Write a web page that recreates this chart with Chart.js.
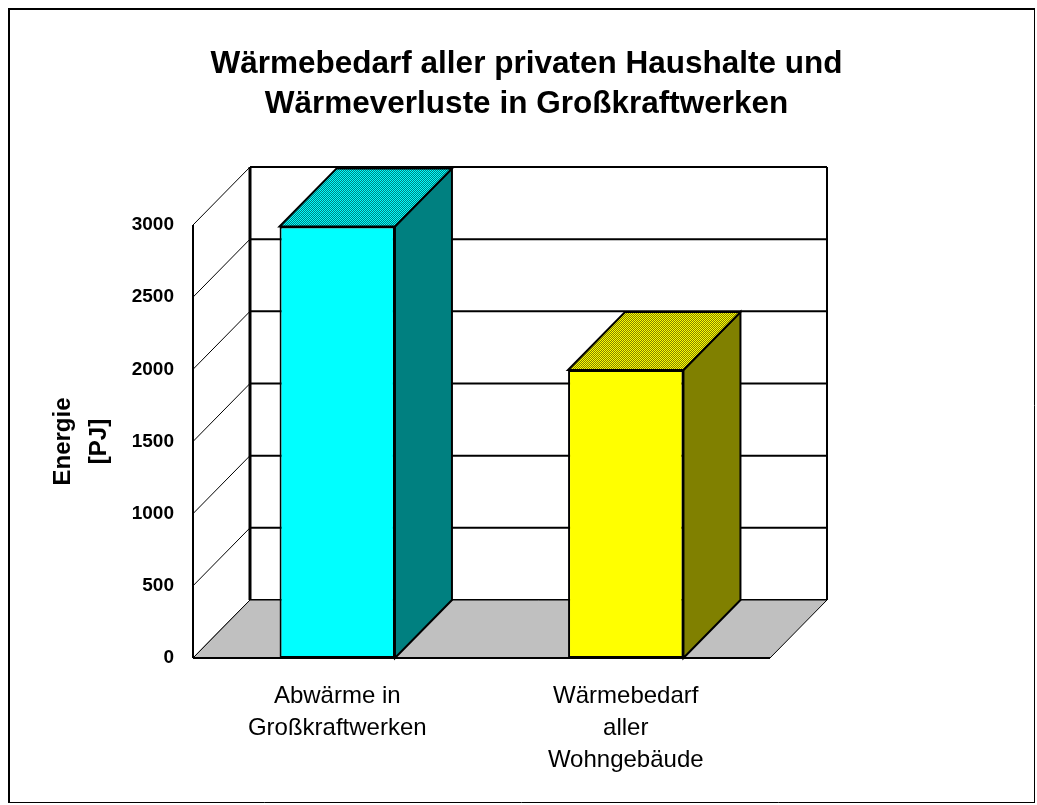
<!DOCTYPE html>
<html>
<head>
<meta charset="utf-8">
<title>Wärmebedarf aller privaten Haushalte und Wärmeverluste in Großkraftwerken</title>
<script src="https://cdn.jsdelivr.net/npm/chart.js@4.4.1/dist/chart.umd.min.js"></script>
<style>
    html, body { margin: 0; padding: 0; background: #fff; }
    canvas { display: block; }
</style>
</head>
<body>
<canvas id="energyChart" width="1037" height="805"></canvas>
<script>
// Chart data
const titleLines = ['Wärmebedarf aller privaten Haushalte und', 'Wärmeverluste in Großkraftwerken'];
const categories = [['Abwärme in', 'Großkraftwerken'], ['Wärmebedarf', 'aller', 'Wohngebäude']];
const energyPJ = [2990, 1995];
const yAxisTitle = ['Energie', '[PJ]'];
const yMin = 0;
const yMax = 3000;
const yStep = 500;

// Colours of the 3D faces
const frontColors = ['#00ffff', '#ffff00'];
const sideColors = ['#008080', '#808000'];
const topDither = [['#008080', '#00ffff'], ['#808000', '#ffff00']];

const FONT = 'Arial, "Liberation Sans", sans-serif';
const DEPTH_X = 57;
const DEPTH_Y = -58;

// small checker pattern, like the dithered tops in the picture
function makeDither(ctx, dark, light) {
    const c = document.createElement('canvas');
    c.width = 2;
    c.height = 2;
    const p = c.getContext('2d');
    p.fillStyle = dark;
    p.fillRect(0, 0, 2, 2);
    p.fillStyle = light;
    p.fillRect(0, 0, 1, 1);
    p.fillRect(1, 1, 1, 1);
    return ctx.createPattern(c, 'repeat');
}

function poly(ctx, pts, fill, lineWidth) {
    ctx.beginPath();
    ctx.moveTo(pts[0][0], pts[0][1]);
    for (let i = 1; i < pts.length; i++) ctx.lineTo(pts[i][0], pts[i][1]);
    ctx.closePath();
    if (fill) {
        ctx.fillStyle = fill;
        ctx.fill();
    }
    ctx.lineWidth = lineWidth;
    ctx.strokeStyle = '#000';
    ctx.stroke();
}

function line(ctx, x1, y1, x2, y2, w) {
    ctx.beginPath();
    ctx.moveTo(x1, y1);
    ctx.lineTo(x2, y2);
    ctx.lineWidth = w;
    ctx.strokeStyle = '#000';
    ctx.stroke();
}

// Walls, floor and bar depth drawn behind the front faces
const threeDPlugin = {
    id: 'threeD',
    beforeDatasetsDraw(chart) {
        const ctx = chart.ctx;
        const y = chart.scales.y;
        const area = chart.chartArea;
        const left = area.left, right = area.right;
        const bottom = y.getPixelForValue(yMin);
        const top = y.getPixelForValue(yMax);
        const dx = DEPTH_X, dy = DEPTH_Y;

        ctx.save();
        // back wall
        ctx.fillStyle = '#fff';
        ctx.fillRect(left + dx, top + dy, right - left, bottom - top);
        y.ticks.forEach(t => {
            const py = y.getPixelForValue(t.value) + dy;
            line(ctx, left + dx, py, right + dx, py, 2);
        });
        line(ctx, right + dx, top + dy, right + dx, bottom + dy, 2);

        // left side wall
        y.ticks.forEach(t => {
            const py = y.getPixelForValue(t.value);
            line(ctx, left, py, left + dx, py + dy, 1);
        });
        line(ctx, left, top, left, bottom, 2);
        line(ctx, left + dx, top + dy, left + dx, bottom + dy, 3);

        // floor
        poly(ctx, [[left, bottom], [right, bottom], [right + dx, bottom + dy], [left + dx, bottom + dy]], '#c0c0c0', 1);
        line(ctx, left, bottom, right, bottom, 2);

        // bar sides and tops
        const meta = chart.getDatasetMeta(0);
        meta.data.forEach((bar, i) => {
            const props = bar.getProps(['x', 'y', 'width', 'base'], true);
            const bl = props.x - props.width / 2;
            const br = props.x + props.width / 2;
            poly(ctx, [[br, props.y], [br + dx, props.y + dy], [br + dx, props.base + dy], [br, props.base]], sideColors[i], 2);
            const pat = makeDither(ctx, topDither[i][0], topDither[i][1]);
            poly(ctx, [[bl, props.y], [bl + dx, props.y + dy], [br + dx, props.y + dy], [br, props.y]], pat, 2);
        });
        ctx.restore();
    },
    afterDraw(chart) {
        const ctx = chart.ctx;
        ctx.save();
        line(ctx, 8, 9, 1035, 9, 2);
        line(ctx, 9, 8, 9, 803, 2);
        line(ctx, 8, 802.5, 1035, 802.5, 1);
        line(ctx, 1034.5, 8, 1034.5, 803, 1);
        ctx.restore();
    }
};

const ctx = document.getElementById('energyChart').getContext('2d');
const energyChart = new Chart(ctx, {
    type: 'bar',
    data: {
        labels: categories,
        datasets: [{
            data: energyPJ,
            backgroundColor: frontColors,
            borderColor: '#000',
            borderWidth: 2,
            borderSkipped: false,
            categoryPercentage: 1,
            barPercentage: 0.4,
            clip: false
        }]
    },
    options: {
        responsive: false,
        animation: false,
        layout: {
            padding: { left: 18, right: 2, top: 10, bottom: 2 }
        },
        plugins: {
            legend: { display: false },
            tooltip: { enabled: false },
            title: {
                display: true,
                text: titleLines,
                color: '#000',
                font: { family: FONT, size: 31.5, weight: 'bold', lineHeight: 40 / 31.5 },
                padding: { top: 34, bottom: 101 }
            }
        },
        scales: {
            x: {
                grid: { display: false },
                border: { display: false },
                ticks: {
                    color: '#000',
                    padding: 14,
                    maxRotation: 0,
                    autoSkip: false,
                    font: { family: FONT, size: 24, lineHeight: 32 / 24 }
                },
                afterFit(scale) { scale.height = 805 - 2 - 658; }
            },
            y: {
                min: yMin,
                max: yMax,
                grid: { display: false },
                border: { display: false },
                ticks: {
                    stepSize: yStep,
                    color: '#000',
                    padding: 11,
                    font: { family: FONT, size: 19, weight: 'bold' },
                    callback: value => String(value)
                },
                title: {
                    display: true,
                    text: yAxisTitle,
                    color: '#000',
                    padding: { top: 27, bottom: 0 },
                    font: { family: FONT, size: 24, weight: 'bold', lineHeight: 1.5 }
                },
                afterFit(scale) { scale.width = 193 - 18; }
            },
            y2: {
                position: 'right',
                display: true,
                grid: { display: false },
                border: { display: false },
                ticks: { display: false },
                afterFit(scale) { scale.width = 1037 - 2 - 770; }
            }
        }
    },
    plugins: [threeDPlugin]
});
</script>
</body>
</html>
